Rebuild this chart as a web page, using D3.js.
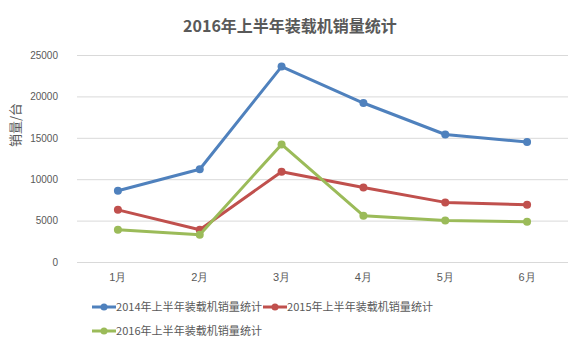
<!DOCTYPE html>
<html>
<head>
<meta charset="utf-8">
<script src="https://cdn.jsdelivr.net/npm/d3@7/dist/d3.min.js"></script>
<style>
  html, body { margin: 0; padding: 0; background: #fff; }
  svg { display: block; font-family: "Noto Sans CJK SC", "Liberation Sans", sans-serif; }
</style>
</head>
<body>
<svg id="chart" width="580" height="344"></svg>
<script>
// Monthly loader sales, first half of each year
const months = ["1月", "2月", "3月", "4月", "5月", "6月"];
const seriesNames = [
  "2014年上半年装载机销量统计",
  "2015年上半年装载机销量统计",
  "2016年上半年装载机销量统计"
];
const sales2014 = [8600, 11200, 23600, 19200, 15400, 14500];
const sales2015 = [6300, 3900, 10900, 9000, 7200, 6900];
const sales2016 = [3900, 3300, 14200, 5600, 5000, 4850];
const yTicks = [0, 5000, 10000, 15000, 20000, 25000];
const colors = ["#4f81bd", "#c0504d", "#9bbb59"];

const series = [sales2014, sales2015, sales2016].map((values, i) => ({
  name: seriesNames[i], values, color: colors[i]
}));

const svg = d3.select("#chart");
const plot = { left: 77, right: 568, top: 55, bottom: 262 };

const x = d3.scaleBand().domain(months).range([plot.left, plot.right]);
const y = d3.scaleLinear().domain([0, 25000]).range([plot.bottom, plot.top]);

// Title
svg.append("text")
  .attr("x", 290).attr("y", 32)
  .attr("text-anchor", "middle")
  .attr("font-size", 16).attr("font-weight", "bold")
  .attr("fill", "#595959")
  .text("2016年上半年装载机销量统计");

// Horizontal gridlines
svg.append("g")
  .selectAll("line").data(yTicks).join("line")
  .attr("x1", plot.left).attr("x2", plot.right)
  .attr("y1", d => y(d) + 0.5).attr("y2", d => y(d) + 0.5)
  .attr("stroke", "#d9d9d9").attr("stroke-width", 1);

// Y axis labels
const yAxis = svg.append("g")
  .attr("transform", `translate(${plot.left - 8},0)`)
  .call(d3.axisLeft(y).tickValues(yTicks).tickFormat(d3.format("d")).tickSize(0).tickPadding(11));
yAxis.select(".domain").remove();
yAxis.selectAll("text")
  .attr("font-family", "Liberation Sans, sans-serif")
  .attr("font-size", 10).attr("fill", "#595959");

// Y axis title
svg.append("text")
  .attr("transform", "translate(20,125) rotate(-90)")
  .attr("text-anchor", "middle")
  .attr("font-size", 13).attr("fill", "#595959")
  .text("销量/台");

// X axis labels
const xAxis = svg.append("g")
  .attr("transform", `translate(0,${plot.bottom + 6})`)
  .call(d3.axisBottom(x).tickSize(0).tickPadding(5));
xAxis.select(".domain").remove();
xAxis.selectAll("text")
  .attr("font-size", 11).attr("fill", "#595959");

// Lines and markers
const line = d3.line()
  .x((d, i) => x(months[i]) + x.bandwidth() / 2)
  .y(d => y(d));

const g = svg.append("g");
series.forEach(s => {
  g.append("path")
    .datum(s.values)
    .attr("d", line)
    .attr("fill", "none")
    .attr("stroke", s.color)
    .attr("stroke-width", 3)
    .attr("stroke-linejoin", "round");
  g.append("g")
    .selectAll("circle").data(s.values).join("circle")
    .attr("cx", (d, i) => x(months[i]) + x.bandwidth() / 2)
    .attr("cy", d => y(d))
    .attr("r", 4)
    .attr("fill", s.color);
});

// Legend
const legendPos = [[92, 307], [263, 307], [92, 331]];
series.forEach((s, i) => {
  const [lx, ly] = legendPos[i];
  const item = svg.append("g").attr("transform", `translate(${lx},${ly})`);
  item.append("line")
    .attr("x1", 0).attr("x2", 24).attr("y1", 0).attr("y2", 0)
    .attr("stroke", s.color).attr("stroke-width", 3);
  item.append("circle").attr("cx", 12).attr("cy", 0).attr("r", 3.5).attr("fill", s.color);
  item.append("text")
    .attr("x", 24).attr("y", 4)
    .attr("font-size", 11).attr("fill", "#595959")
    .attr("textLength", 146).attr("lengthAdjust", "spacingAndGlyphs")
    .text(s.name);
});
</script>
</body>
</html>
